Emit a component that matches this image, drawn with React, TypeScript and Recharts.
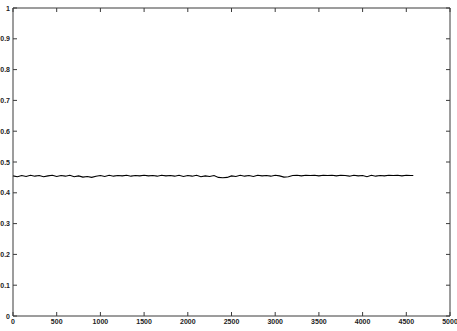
import { LineChart, Line, XAxis, YAxis } from 'recharts';

const sampleX = [
  0, 50, 100, 150, 200, 250, 300, 350, 400, 450,
  500, 550, 600, 650, 700, 750, 800, 850, 900, 950,
  1000, 1050, 1100, 1150, 1200, 1250, 1300, 1350, 1400, 1450,
  1500, 1550, 1600, 1650, 1700, 1750, 1800, 1850, 1900, 1950,
  2000, 2050, 2100, 2150, 2200, 2250, 2300, 2350, 2400, 2450,
  2500, 2550, 2600, 2650, 2700, 2750, 2800, 2850, 2900, 2950,
  3000, 3050, 3100, 3150, 3200, 3250, 3300, 3350, 3400, 3450,
  3500, 3550, 3600, 3650, 3700, 3750, 3800, 3850, 3900, 3950,
  4000, 4050, 4100, 4150, 4200, 4250, 4300, 4350, 4400, 4450,
  4500, 4550, 4580,
];

const sampleY = [
  0.455, 0.452, 0.456, 0.453, 0.457, 0.454, 0.456, 0.452, 0.455, 0.457,
  0.453, 0.456, 0.454, 0.457, 0.452, 0.455, 0.451, 0.453, 0.45, 0.454,
  0.456, 0.453, 0.457, 0.454, 0.456, 0.455, 0.457, 0.454, 0.456, 0.455,
  0.457, 0.455, 0.456, 0.454, 0.457, 0.455, 0.456, 0.454, 0.457, 0.453,
  0.456, 0.454, 0.457, 0.452, 0.455, 0.453, 0.456, 0.45, 0.449, 0.45,
  0.455, 0.453, 0.457, 0.454, 0.456, 0.453, 0.457, 0.455, 0.456, 0.454,
  0.457, 0.455, 0.451, 0.452, 0.456, 0.457, 0.455, 0.457, 0.456, 0.457,
  0.455, 0.457, 0.456, 0.457, 0.455, 0.457, 0.456, 0.454, 0.457, 0.455,
  0.456, 0.452, 0.457, 0.454, 0.456, 0.455, 0.457, 0.456, 0.457, 0.455,
  0.457, 0.456, 0.456,
];

const xTicks = [0, 500, 1000, 1500, 2000, 2500, 3000, 3500, 4000, 4500, 5000];
const yTicks = [0, 0.1, 0.2, 0.3, 0.4, 0.5, 0.6, 0.7, 0.8, 0.9, 1];

const data = sampleX.map((x, i) => ({ x, y: sampleY[i] }));

const AXIS = '#3a3a3a';
const FONT = '"Liberation Sans", Arial, sans-serif';
const TICK_LEN = 4;

const BottomTick = (props: any) => {
  const { x, y, payload } = props;
  return (
    <g>
      <line x1={x} y1={y} x2={x} y2={y - TICK_LEN} stroke={AXIS} strokeWidth={1} />
      <text x={x} y={y + 8} textAnchor="middle" fontSize={7} fontWeight="bold" fontFamily={FONT} fill="#222">
        {payload.value}
      </text>
    </g>
  );
};

const TopTick = (props: any) => {
  const { x, y } = props;
  return <line x1={x} y1={y} x2={x} y2={y + TICK_LEN} stroke={AXIS} strokeWidth={1} />;
};

const LeftTick = (props: any) => {
  const { x, y, payload } = props;
  return (
    <g>
      <line x1={x} y1={y} x2={x + TICK_LEN} y2={y} stroke={AXIS} strokeWidth={1} />
      <text x={x - 3} y={y + 2.5} textAnchor="end" fontSize={7} fontWeight="bold" fontFamily={FONT} fill="#222">
        {payload.value}
      </text>
    </g>
  );
};

const RightTick = (props: any) => {
  const { x, y } = props;
  return <line x1={x} y1={y} x2={x - TICK_LEN} y2={y} stroke={AXIS} strokeWidth={1} />;
};

export default function App() {
  return (
    <div style={{ position: 'absolute', left: 0, top: 0, background: '#fff' }}>
      <LineChart width={457} height={331} data={data} margin={{ top: 7, right: 6, bottom: 0, left: 0 }}>
        <XAxis
          xAxisId="bottom"
          dataKey="x"
          type="number"
          domain={[0, 5000]}
          ticks={xTicks}
          height={15}
          tickSize={0}
          tickMargin={0}
          tickLine={false}
          tick={<BottomTick />}
          axisLine={{ stroke: AXIS, strokeWidth: 1 }}
          interval={0}
        />
        <XAxis
          xAxisId="top"
          orientation="top"
          dataKey="x"
          type="number"
          domain={[0, 5000]}
          ticks={xTicks}
          height={1}
          tickSize={0}
          tickMargin={0}
          tickLine={false}
          tick={<TopTick />}
          axisLine={{ stroke: AXIS, strokeWidth: 1 }}
          interval={0}
        />
        <YAxis
          yAxisId="left"
          type="number"
          domain={[0, 1]}
          ticks={yTicks}
          width={13}
          tickSize={0}
          tickMargin={0}
          tickLine={false}
          tick={<LeftTick />}
          axisLine={{ stroke: AXIS, strokeWidth: 1 }}
          interval={0}
        />
        <YAxis
          yAxisId="right"
          orientation="right"
          type="number"
          domain={[0, 1]}
          ticks={yTicks}
          width={1}
          tickSize={0}
          tickMargin={0}
          tickLine={false}
          tick={<RightTick />}
          axisLine={{ stroke: AXIS, strokeWidth: 1 }}
          interval={0}
        />
        <Line
          xAxisId="bottom"
          yAxisId="left"
          dataKey="y"
          type="linear"
          stroke="#000"
          strokeWidth={1.1}
          dot={false}
          isAnimationActive={false}
        />
        {/* invisible series so the top/right frame axes are drawn */}
        <Line
          xAxisId="top"
          yAxisId="right"
          dataKey="y"
          type="linear"
          stroke="#000"
          strokeOpacity={0}
          dot={false}
          legendType="none"
          isAnimationActive={false}
        />
      </LineChart>
    </div>
  );
}
